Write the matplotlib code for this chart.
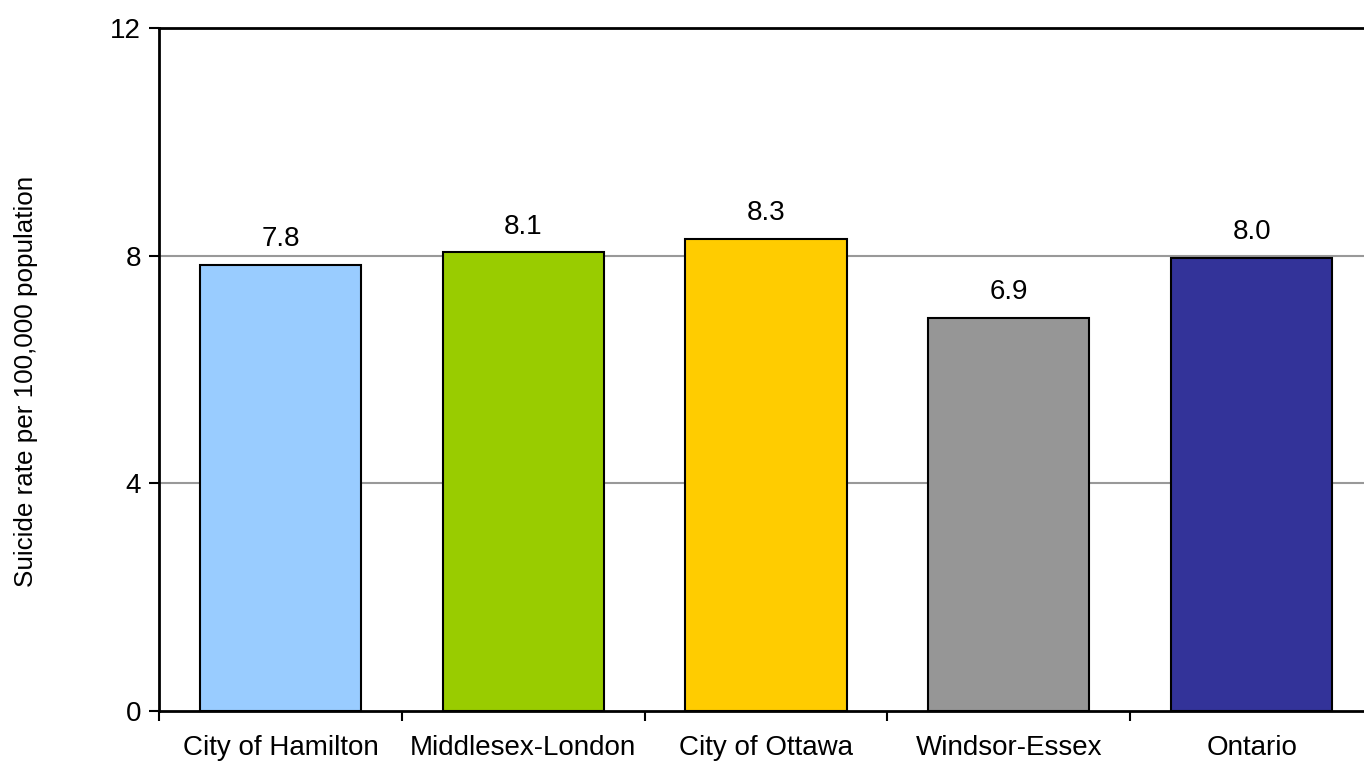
import numpy as np
import matplotlib
matplotlib.use('Agg')
import matplotlib.pyplot as plt

plt.rcParams['font.family'] = ['Liberation Sans', 'DejaVu Sans']

regions = ['City of Hamilton', 'Middlesex-London', 'City of Ottawa', 'Windsor-Essex', 'Ontario']
rates = [7.84, 8.06, 8.3, 6.91, 7.96]
bar_colors = ['#99CCFF', '#99CC00', '#FFCC00', '#969696', '#333399']
y_ticks = [0, 4, 8, 12]

fig = plt.figure(figsize=(13.64, 7.62), dpi=100)
ax = fig.add_axes([159 / 1364, 51 / 762, (1373 - 159) / 1364, (711 - 28) / 762])

x = np.arange(len(regions))
ax.bar(x, rates, width=0.664, color=bar_colors, edgecolor='black', linewidth=1.5, zorder=3)

for xi, v in zip(x, rates):
    ax.text(xi, v + 0.22, f'{v:.1f}', ha='center', va='bottom', fontsize=20)

ax.set_xlim(-0.5, len(regions) - 0.5)
ax.set_ylim(0, 12)
ax.set_yticks(y_ticks)
ax.set_yticklabels([str(t) for t in y_ticks], fontsize=20)
for t in y_ticks[1:-1]:
    ax.axhline(t, color='#999999', linewidth=1.5, zorder=1)
ax.axhline(12, color='black', linewidth=2, zorder=4, clip_on=False)

ax.set_xticks(x)
ax.set_xticklabels(regions, fontsize=20)
ax.tick_params(axis='x', which='major', length=0, pad=17)
ax.set_xticks(np.arange(-0.5, len(regions), 1.0), minor=True)
ax.tick_params(axis='x', which='minor', length=7, width=1.5, direction='out')
ax.tick_params(axis='y', length=7, width=1.5, direction='out', pad=6)

for s in ['top', 'right']:
    ax.spines[s].set_visible(False)
for s in ['left', 'bottom']:
    ax.spines[s].set_linewidth(2)

ax.set_ylabel('Suicide rate per 100,000 population', fontsize=18.7)
ax.yaxis.set_label_coords(-0.1, 0.483)

fig.savefig('out.png', dpi=100)
